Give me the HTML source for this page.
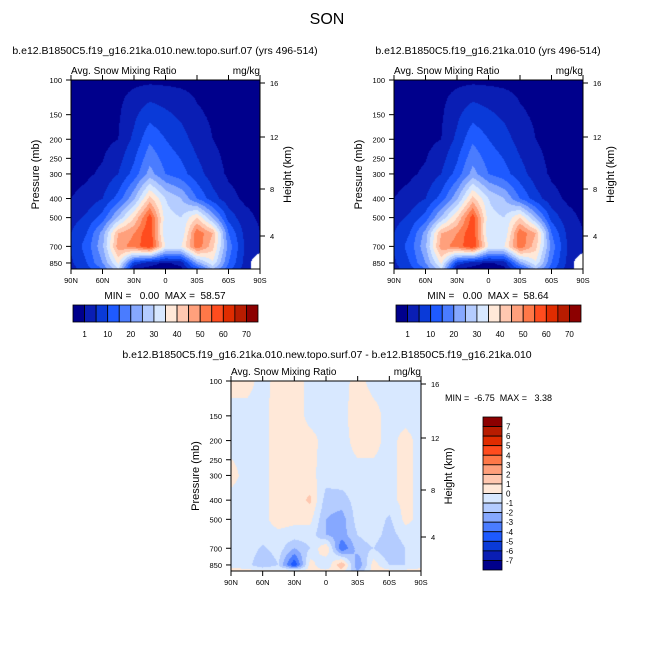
<!DOCTYPE html>
<html><head><meta charset="utf-8">
<style>
html,body{margin:0;padding:0;background:#fff;}
#wrap{position:relative;width:654px;height:654px;overflow:hidden;font-family:"Liberation Sans",Arial,sans-serif;}
canvas,svg{position:absolute;left:0;top:0;}
</style></head>
<body>
<div id="wrap">
<canvas id="cv" width="654" height="654"></canvas>
<svg id="sv" width="654" height="654"></svg>
</div>
<script>
// ---- data ----
const lats = [90,75,60,45,30,15,0,-15,-30,-45,-60,-75,-90];
const levels = [100,150,200,300,400,500,600,700,850,912];
const fieldA = [
 [0,0,0,0,0,0,0,0,0,0,0,0,0],
 [0,0,0,0.5,4,8,6,4,1.5,0.5,0,0,0],
 [0,0,0,1,6,14,10,7,3,1,0,0,0],
 [0,0.5,1.5,5,12,22,15,12,7,2.5,0.5,0,0],
 [1,2,5,12,24,42,30,25,15,7,2,0.5,0],
 [3,6,12,26,40,58,32,30,40,24,8,2,0.5],
 [5,10,22,45,50,60,30,30,54,45,15,4,1],
 [6,12,24,48,52,60,35,35,54,42,18,5,2],
 [4,10,20,36,8,2,0.5,2,22,34,15,4,null],
 [3,8,15,30,0,0,0,0,10,25,12,3,null]
];
const fieldB = [
 [0,0,0,0,0,0,0,0,0,0,0,0,0],
 [0,0,0,0.5,4,8,6,4,1.5,0.5,0,0,0],
 [0,0,0,1,6,14,10,7,3,1,0,0,0],
 [0,0.5,1.5,5,12,22,15,12,7,2.5,0.5,0,0],
 [1,2,5,12,24,42,30,25,15,7,2,0.5,0],
 [3,6,12,26,40,58,32,30,40,24,8,2,0.5],
 [5,10,22,45,50,60,30,30,54,45,15,4,1],
 [6,12,24,48,52,60,35,35,54,42,18,5,2],
 [4,10,20,36,8,2,0.5,2,22,34,15,4,null],
 [3,8,15,30,0,0,0,0,10,25,12,3,null]
];
const fieldD = [
 [0.3,0.3,-0.3,0.3,0.5,-0.3,-0.3,-0.3,0.3,-0.3,-0.3,-0.3,-0.3],
 [-0.3,-0.3,-0.3,0.5,0.5,-0.3,-0.3,-0.3,0.5,0.3,-0.3,-0.3,-0.3],
 [-0.3,-0.3,-0.3,0.5,0.5,0.3,-0.3,-0.3,0.3,0.3,-0.3,0.3,-0.3],
 [0.3,-0.3,-0.3,0.5,0.5,0.3,-0.5,-0.3,-0.3,-0.3,-0.3,0.3,-0.3],
 [-0.3,-0.3,-0.3,0.5,0.5,1.2,-1.5,-1.5,-0.5,-0.3,-0.3,0.3,-0.3],
 [-0.3,-0.3,-0.3,0.5,0.3,0.3,-2,-2.5,-0.5,-0.3,-1.2,0.3,-0.3],
 [-0.3,-0.3,-0.5,-0.3,-0.5,-0.5,-2,-2.5,-1,-0.5,-1.5,-0.5,-0.3],
 [-0.3,-0.3,-1.2,-0.5,-2,-1,1,-4,-1.5,-1,-2,-1,-0.3],
 [-0.3,-0.5,-2,-1,-5,0.5,-1,2,-3,0.5,-1,-1,-0.3],
 [0.3,0.3,0.3,0.3,0.3,0.3,0.3,0.5,-2,0.5,0.3,0.3,0.3]
];
const boundsA = [1,5,10,15,20,25,30,35,40,45,50,55,60,65,70];
const boundsD = [-7,-6,-5,-4,-3,-2,-1,0,1,2,3,4,5,6,7];
const labelsA = ["1","10","20","30","40","50","60","70"];
const labelIdxA = [0,2,4,6,8,10,12,14];
const latLabels = ["90N","60N","30N","0","30S","60S","90S"];
const pLabels = [100,150,200,250,300,400,500,700,850];
const hLabels = [16,12,8,4];
const hLabelY = [83,137,189,236];
const palette = ["#00008c","#0a1eb4","#0a3ad8","#1e5aff","#4a7cff","#86a8ff","#b4ccff","#d8e8ff","#ffe8d8","#ffc8b0","#ffa07c","#ff7848","#ff4c1e","#e02c00","#b81c00","#8c0000"];

const panels = [
 {x:71,y:80,w:189,h:189,f:fieldA,b:boundsA,name:"panel-left"},
 {x:394,y:80,w:189,h:189,f:fieldB,b:boundsA,name:"panel-right"},
 {x:231,y:381,w:190,h:190,f:fieldD,b:boundsD,name:"panel-diff"}
];
const pTop=100, pBot=912;
function yOf(P,p){return P.y+P.h*Math.log(p/pTop)/Math.log(pBot/pTop);}
function pOf(P,y){return pTop*Math.exp((y-P.y)/P.h*Math.log(pBot/pTop));}
function sample(f,lat,p){
  let li=(90-lat)/15; let i0=Math.min(11,Math.floor(li)); let fx=li-i0;
  let lp=Math.log(p); let k=0;
  while(k<levels.length-2 && Math.log(levels[k+1])<lp) k++;
  let fy=(lp-Math.log(levels[k]))/(Math.log(levels[k+1])-Math.log(levels[k]));
  fy=Math.max(0,Math.min(1,fy));
  const a=f[k][i0],b=f[k][i0+1],c=f[k+1][i0],d=f[k+1][i0+1];
  if(a===null||b===null||c===null||d===null){
    const arr=[[a,(1-fx)*(1-fy)],[b,fx*(1-fy)],[c,(1-fx)*fy],[d,fx*fy]];
    let s=0,w=0;arr.forEach(q=>{if(q[0]!==null){s+=q[0]*q[1];w+=q[1];}});
    if(w<0.6) return null; return s/w;
  }
  return a*(1-fx)*(1-fy)+b*fx*(1-fy)+c*(1-fx)*fy+d*fx*fy;
}
function colorIdx(b,v){let i=0;while(i<b.length&&v>=b[i])i++;return i;}
function hex(c){return [parseInt(c.substr(1,2),16),parseInt(c.substr(3,2),16),parseInt(c.substr(5,2),16)];}
const rgb=palette.map(hex);
const ctx=document.getElementById('cv').getContext('2d');
panels.forEach(P=>{
  const img=ctx.createImageData(P.w,P.h);
  for(let j=0;j<P.h;j++){
    const p=pOf(P,P.y+j+0.5);
    for(let i=0;i<P.w;i++){
      const lat=90-(i+0.5)/P.w*180;
      const v=sample(P.f,lat,p);
      const o=(j*P.w+i)*4;
      if(v===null){img.data[o]=255;img.data[o+1]=255;img.data[o+2]=255;img.data[o+3]=255;continue;}
      const c=rgb[colorIdx(P.b,v)];
      img.data[o]=c[0];img.data[o+1]=c[1];img.data[o+2]=c[2];img.data[o+3]=255;
    }
  }
  ctx.putImageData(img,P.x,P.y);
});
// ---- overlay ----
const NS="http://www.w3.org/2000/svg";
const sv=document.getElementById('sv');
function el(tag,attrs,txt){const e=document.createElementNS(NS,tag);for(const k in attrs)e.setAttribute(k,attrs[k]);if(txt!==undefined)e.textContent=txt;sv.appendChild(e);return e;}
function text(x,y,s,size,anchor,name,extra){const t=el('text',Object.assign({x:x,y:y,'font-size':size,'text-anchor':anchor||'start','font-family':'Liberation Sans, Arial, sans-serif',fill:'#000'},extra||{}),s);

return t;}
text(327,24,"SON",16,"middle","figure-title");
const subL="b.e12.B1850C5.f19_g16.21ka.010.new.topo.surf.07 (yrs 496-514)";
const subR="b.e12.B1850C5.f19_g16.21ka.010 (yrs 496-514)";
text(165,54,subL,10.5,"middle","left-panel-title");
text(488,54,subR,10.5,"middle","right-panel-title");
text(327,358,"b.e12.B1850C5.f19_g16.21ka.010.new.topo.surf.07 - b.e12.B1850C5.f19_g16.21ka.010",10.5,"middle","diff-panel-title");
panels.forEach((P,pi)=>{
  const r=el('rect',{x:P.x,y:P.y,width:P.w,height:P.h,fill:'none',stroke:'#000','stroke-width':1});
  
  
  text(P.x,P.y-6,"Avg. Snow Mixing Ratio",10,"start",P.name+"-variable-label");
  text(P.x+P.w,P.y-6,"mg/kg",10,"end",P.name+"-units-label");
  pLabels.forEach(p=>{
    const y=yOf(P,p);
    el('line',{x1:P.x-5,y1:y,x2:P.x,y2:y,stroke:'#000'});
    text(P.x-9,y+3,String(p),7.5,"end",P.name+"-pressure-tick");
  });
  latLabels.forEach((s,k)=>{
    const x=P.x+P.w*k/6;
    el('line',{x1:x,y1:P.y+P.h,x2:x,y2:P.y+P.h+5,stroke:'#000'});
    el('line',{x1:x,y1:P.y,x2:x,y2:P.y-5,stroke:'#000'});
    text(x,P.y+P.h+14,s,7.5,"middle",P.name+"-lat-tick");
  });
  hLabels.forEach((h,k)=>{
    const y=hLabelY[k]+(P.y-80);
    el('line',{x1:P.x+P.w,y1:y,x2:P.x+P.w+5,y2:y,stroke:'#000'});
    text(P.x+P.w+10,y+3,String(h),7.5,"start",P.name+"-height-tick");
  });
  const cy=P.y+P.h/2;
  text(0,0,"Pressure (mb)",11,"middle",P.name+"-y-axis-title",{transform:`translate(${P.x-32},${cy}) rotate(-90)`});
  text(0,0,"Height (km)",11,"middle",P.name+"-y2-axis-title",{transform:`translate(${P.x+P.w+31},${cy}) rotate(-90)`});
});
const sp="\u00a0";
text(165,299,"MIN ="+sp+sp+sp+"0.00"+sp+sp+"MAX ="+sp+sp+"58.57",10,"middle","left-min-max");
text(488,299,"MIN ="+sp+sp+sp+"0.00"+sp+sp+"MAX ="+sp+sp+"58.64",10,"middle","right-min-max");
text(445,401,"MIN ="+sp+sp+"-6.75"+sp+sp+"MAX ="+sp+sp+sp+"3.38",9,"start","diff-min-max");
// horizontal colorbars
[73,396].forEach((x0,ci)=>{
  const w=185/16;
  palette.forEach((c,k)=>{
    const r=el('rect',{x:x0+k*w,y:305,width:w,height:17,fill:c,stroke:'#000','stroke-width':0.8});
    
    
  });
  labelsA.forEach((s,k)=>{
    text(x0+(labelIdxA[k]+1)*w,337,s,8,"middle","colorbar-label");
  });
});
// vertical colorbar
{
  const y0=417,h=153/16;
  for(let k=0;k<16;k++){
    const r=el('rect',{x:483,y:y0+k*h,width:19,height:h,fill:palette[15-k],stroke:'#000','stroke-width':0.8});
    
    
  }
  for(let k=0;k<15;k++){
    const v=boundsD[14-k];
    text(506,y0+(k+1)*h+3,String(v),8,"start","diff-colorbar-label");
  }
}
</script>
</body></html>
